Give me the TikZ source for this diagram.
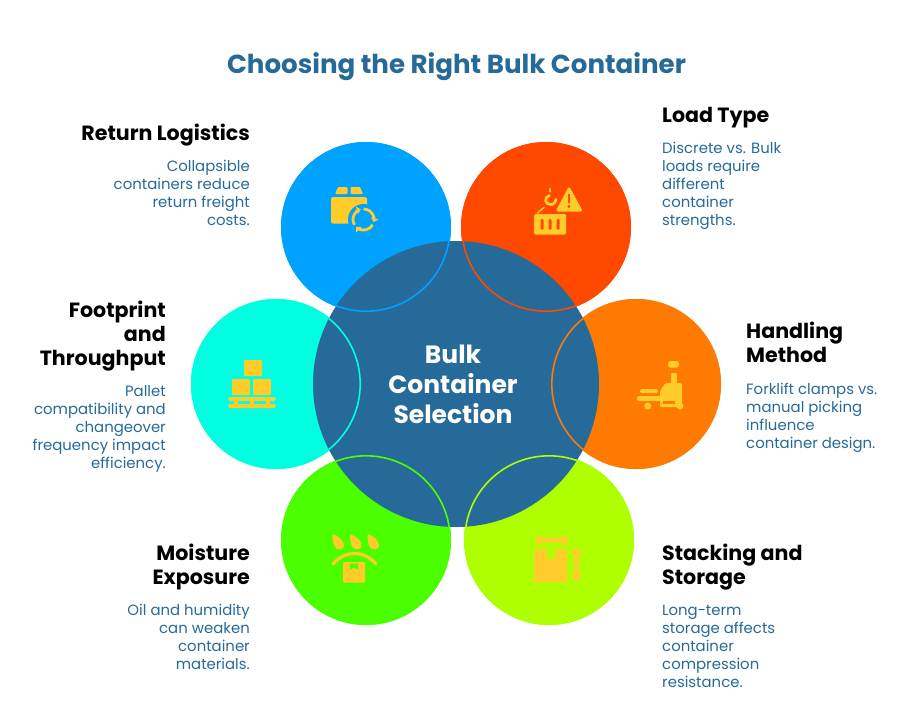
\documentclass[tikz,border=0pt]{standalone}
\usepackage{fontspec}
\setmainfont{Poppins}
\usetikzlibrary{arrows.meta}
\definecolor{cblue}{HTML}{00A2FF}
\definecolor{cred}{HTML}{FF4800}
\definecolor{corange}{HTML}{FF7A00}
\definecolor{clime}{HTML}{AEFF00}
\definecolor{cgreen}{HTML}{4CFF00}
\definecolor{ccyan}{HTML}{00FFE1}
\definecolor{ccore}{HTML}{266A99}
\definecolor{cicon}{HTML}{FFCC29}
\tikzset{
  petal/.style={circle,draw=none,fill=#1,minimum size=170pt,inner sep=0pt,outer sep=0pt},
  ring/.style={draw=#1,line width=1.6pt},
  titletext/.style={font=\fontsize{26.1}{30}\selectfont\bfseries,text=ccore,inner sep=0pt},
  coretext/.style={font=\fontsize{25}{30}\selectfont\bfseries,text=white,align=center,inner sep=0pt},
  headL/.style={font=\fontsize{20.6}{24}\selectfont\bfseries,text=black,align=right,anchor=north east,inner sep=0pt},
  headR/.style={font=\fontsize{20.6}{24}\selectfont\bfseries,text=black,align=left,anchor=north west,inner sep=0pt},
  descL/.style={font=\fontsize{14.9}{18}\selectfont,text=ccore,align=right,anchor=north east,inner sep=0pt},
  descR/.style={font=\fontsize{14.9}{18}\selectfont,text=ccore,align=left,anchor=north west,inner sep=0pt},
  ic/.style={fill=cicon,draw=none},
  icl/.style={draw=cicon,line cap=round,fill=none},
  chase/.style={draw=cicon,fill=none,line width=2.8pt,-{Triangle[length=4pt,width=7.5pt]}},
}
\begin{document}
\begin{tikzpicture}[x=1pt,y=-1pt]
\useasboundingbox (0,0) rectangle (913,713);
\fill[white] (0,0) rectangle (913,713);
% petals
\node[petal=cblue] (blue) at (366,227) {};
\node[petal=cred] (red) at (546,227) {};
\node[petal=corange] (orange) at (636,384) {};
\node[petal=clime] (lime) at (549,540) {};
\node[petal=cgreen] (green) at (366,540) {};
\node[petal=ccyan] (cyan) at (276,384) {};
% core
\node[circle,fill=ccore,minimum size=286pt,inner sep=0pt,outer sep=0pt] (core) at (456,384) {};
\draw[ring=cblue] (blue) circle[radius=84.2];
\draw[ring=cred] (red) circle[radius=84.2];
\draw[ring=corange] (orange) circle[radius=84.2];
\draw[ring=clime] (lime) circle[radius=84.2];
\draw[ring=cgreen] (green) circle[radius=84.2];
\draw[ring=ccyan] (cyan) circle[radius=84.2];
\node[coretext] (coreLabel) at (453,384.5) {Bulk\\Container\\Selection};
\node[titletext] (title) at (456.5,66.5) {Choosing the Right Bulk Container};
% labels
\node[headL] (h1) at (250,124) {Return Logistics};
\node[descL] (d1) at (250,159.5) {Collapsible\\containers reduce\\return freight\\costs.};
\node[headR] (h2) at (662,107) {Load Type};
\node[descR] (d2) at (662,141.5) {Discrete vs. Bulk\\loads require\\different\\container\\strengths.};
\node[headL] (h3) at (166,301) {Footprint\\and\\Throughput};
\node[descL] (d3) at (166,385) {Pallet\\compatibility and\\changeover\\frequency impact\\efficiency.};
\node[headR] (h4) at (746,322) {Handling\\Method};
\node[descR] (d4) at (746,383) {Forklift clamps vs.\\manual picking\\influence\\container design.};
\node[headL] (h5) at (250,544) {Moisture\\Exposure};
\node[descL] (d5) at (250,604) {Oil and humidity\\can weaken\\container\\materials.};
\node[headR] (h6) at (662,544) {Stacking and\\Storage};
\node[descR] (d6) at (662,605) {Long-term\\storage affects\\container\\compression\\resistance.};
% icon: box with recycling
\fill[ic,rounded corners=1.5pt] (331,197) rectangle (367,223.5);
\fill[ic,rounded corners=1pt] (335,194) -- (338,187) -- (347.5,187) -- (347.5,194) -- cycle;
\fill[ic,rounded corners=1pt] (350.5,194) -- (350.5,187) -- (360,187) -- (363,194) -- cycle;
\coordinate (rc) at (363.5,219.5);
\fill[cblue] (rc) circle[radius=15.5];
\draw[chase] (rc) ++(150:10.5) arc[start angle=150,end angle=255,radius=10.5];
\draw[chase] (rc) ++(-90:10.5) arc[start angle=-90,end angle=15,radius=10.5];
\draw[chase] (rc) ++(30:10.5) arc[start angle=30,end angle=135,radius=10.5];
% icon: hook, warning, container
\draw[icl,line width=2.8pt] (550,189) -- (550,191.5);
\draw[icl,line width=2.8pt] (549.5,195.5) .. controls (544,197) and (544.5,204.5) .. (550.5,204.5) .. controls (554,204.5) and (556,202) .. (556,199.5);
\fill[ic,rounded corners=2.5pt] (569,186) -- (583,211.5) -- (555.5,211.5) -- cycle;
\fill[cred] (567.8,194) rectangle (570.3,203);
\fill[cred] (569,206.5) circle[radius=1.6];
\draw[icl,line width=1.6pt] (537.5,213) -- (544,207.5);
\fill[ic,rounded corners=1.5pt] (534,214) rectangle (566,234.5);
\foreach \xx in {540.5,548.5,556.5}
  \fill[cred,rounded corners=1pt] (\xx,219) rectangle ++(3,10.5);
% icon: pallet
\fill[ic,rounded corners=1.2pt] (244,360) rectangle (262,376);
\fill[ic,rounded corners=1.2pt] (232,379) rectangle (250,395);
\fill[ic,rounded corners=1.2pt] (253,379) rectangle (271,395);
\fill[ic,rounded corners=1.8pt] (228,397) rectangle (276,401);
\fill[ic,rounded corners=1.8pt] (228,404) rectangle (276,408);
\foreach \xx in {234,250,266}
  \fill[ic] (\xx,400) rectangle ++(4,5);
% icon: pallet truck
\fill[ic,rounded corners=2.5pt] (668,361) rectangle (679,367.5);
\fill[ic] (671,373) rectangle (677,385);
\fill[ic,rounded corners=1.5pt] (660,407) -- (660,391) -- (665.5,383) -- (682,383) -- (682,407) -- cycle;
\fill[corange] (663,401) rectangle (675,403.5);
\fill[ic,rounded corners=1.5pt] (640,389) rectangle (658,393);
\fill[ic,rounded corners=1.5pt] (637,396) rectangle (661,401);
\fill[ic] (647.7,406) circle[radius=3.5];
\fill[ic] (680,406) circle[radius=3.5];
% icon: drops and box
\foreach \xx in {332.5,350,367.5}{
  \fill[ic] (\xx,534) .. controls (\xx+6,536) and (\xx+12,541) .. (\xx+11.5,546)
     .. controls (\xx+11,550.5) and (\xx+3,550.5) .. (\xx+1.5,545.5) .. controls (\xx+0.5,542) and (\xx,538) .. (\xx,534) -- cycle;
}
\draw[icl,line width=3.2pt] (333,564) .. controls (345,550) and (364,550) .. (376,564);
\fill[ic,rounded corners=1pt] (343,562) rectangle (365,582.5);
\fill[cgreen] (350,563.5) -- (358,563.5) -- (358,570) -- (354,567.5) -- (350,570) -- cycle;
% icon: stacked box with arrows
\fill[ic] (534,549) rectangle (567,582);
\fill[clime] (547,549) rectangle (554.5,559);
\fill[ic] (534,540) -- (541,533.5) -- (541,537.5) -- (562,537.5) -- (562,533.5) -- (569,540) -- (562,546.5) -- (562,542.5) -- (541,542.5) -- (541,546.5) -- cycle;
\fill[ic] (576.5,547) -- (583,554.5) -- (578.8,554.5) -- (578.8,574.5) -- (583,574.5) -- (576.5,582) -- (570,574.5) -- (574.2,574.5) -- (574.2,554.5) -- (570,554.5) -- cycle;
\end{tikzpicture}
\end{document}
